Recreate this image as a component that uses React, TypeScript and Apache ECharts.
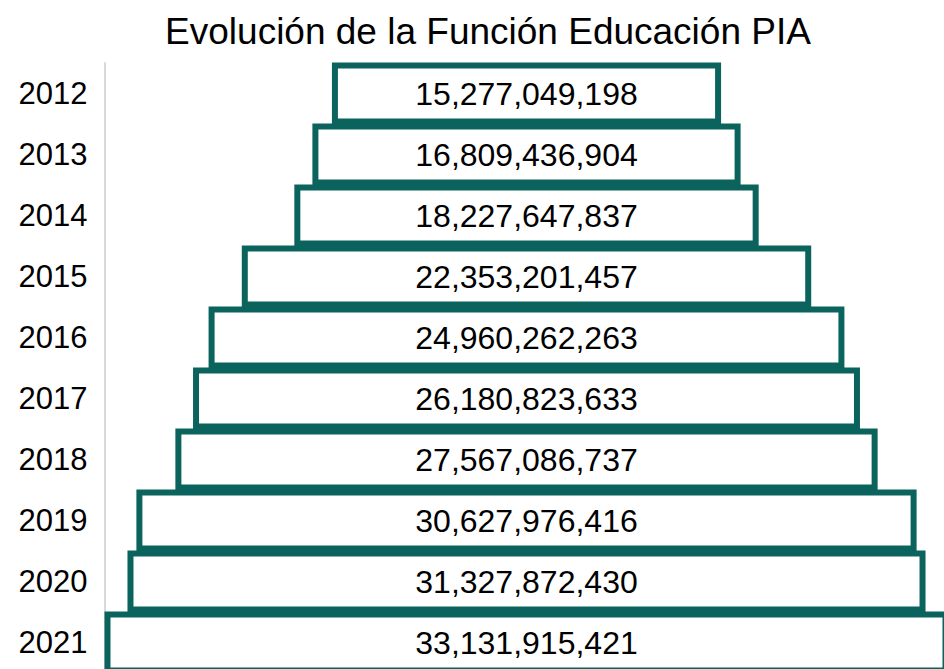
import React, { useEffect, useRef } from "react";
import * as echarts from "echarts";

const years = ["2012", "2013", "2014", "2015", "2016", "2017", "2018", "2019", "2020", "2021"];
const values = [
  15277049198, 16809436904, 18227647837, 22353201457, 24960262263,
  26180823633, 27567086737, 30627976416, 31327872430, 33131915421,
];
const titleText = "Evolución de la Función Educación PIA";

export default function App() {
  const ref = useRef<HTMLDivElement>(null);
  useEffect(() => {
    if (!ref.current) return;
    const chart = echarts.init(ref.current, undefined, { renderer: "svg" });
    const maxV = Math.max(...values);
    const offsets = values.map((v) => (maxV - v) / 2);
    const teal = "#0b635e";
    chart.setOption({
      animation: false,
      textStyle: { fontFamily: "Liberation Sans, Arial, sans-serif" },
      title: {
        text: titleText,
        left: 483,
        textAlign: "center",
        top: 8,
        textStyle: { fontSize: 37, fontWeight: "normal", color: "#000", fontFamily: "Liberation Sans, Arial, sans-serif" },
      },
      grid: { left: 104.5, right: 1.5, top: 63, bottom: 7, containLabel: false },
      xAxis: { type: "value", min: 0, max: maxV, show: false },
      yAxis: {
        type: "category",
        data: years,
        inverse: true,
        axisLine: { show: true, lineStyle: { color: "#d9d9d9", width: 2 } },
        axisTick: { show: false },
        axisLabel: { fontSize: 31, color: "#000", margin: 17, fontFamily: "Liberation Sans, Arial, sans-serif" },
        splitLine: { show: false },
      },
      series: [
        {
          type: "bar",
          stack: "a",
          data: offsets,
          itemStyle: { color: "transparent" },
          barWidth: 62,
          silent: true,
        },
        {
          type: "bar",
          stack: "a",
          data: values,
          barWidth: 62,
          itemStyle: { color: "#ffffff", borderColor: teal, borderWidth: 6 },
          label: {
            show: true,
            position: "inside",
            color: "#000",
            fontSize: 32,
            fontFamily: "Liberation Sans, Arial, sans-serif",
            formatter: (p: any) => Number(p.value).toLocaleString("en-US"),
          },
        },
      ],
    });
    return () => chart.dispose();
  }, []);
  return (
    <div
      style={{ position: "absolute", left: 0, top: 0, width: 944, height: 669, overflow: "hidden", background: "#fff" }}
    >
      <div ref={ref} style={{ width: 950, height: 680 }} />
    </div>
  );
}
